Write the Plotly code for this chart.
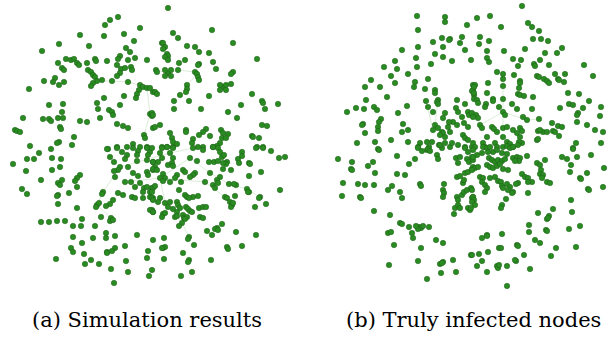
import plotly.graph_objects as go

# Node positions (image-pixel coordinates)
left_nodes = [
(118,17),(110,20),(105,25),(140,28),(80,35),(104,36),(124,34),(59,44),(134,41),(89,46),(42,51),
(126,48),(130,52),(120,56),(128,60),(118,59),(135,58),(147,60),(66,59),(71,60),(74,59),(77,63),(79,65),
(58,63),(62,68),(64,70),(95,59),(96,61),(107,61),(87,63),(88,70),(91,72),(93,75),
(117,65),(121,69),(120,73),(125,68),(131,67),(132,70),(117,76),(55,78),(44,81),(53,82),(59,85),(64,82),
(95,77),(97,81),(93,83),(91,86),(102,80),(112,81),(128,82),(29,89),
(140,85),(143,87),(147,88),(139,90),(137,94),(136,98),(153,92),(124,96),(104,98),(63,104),(49,105),
(97,103),(98,109),(120,105),(109,110),(112,112),(113,115),(62,112),(150,114),(152,116),(23,118),
(43,119),(49,119),(51,121),(58,118),(63,118),(100,118),(80,121),(87,122),(60,127),(61,129),(117,124),
(123,126),(128,128),(15,130),(17,131),(20,132),(153,128),(74,137),(144,135),(145,138),(59,142),(57,143),
(72,145),(30,146),(117,147),(108,149),(133,144),(140,147),(147,147),(148,148),(127,147),(51,149),
(168,8),(212,30),(173,33),(178,38),(233,43),(162,43),(163,43),(165,47),(163,49),(187,46),(195,47),
(199,52),(209,53),(167,54),(168,56),(165,57),(168,60),(185,60),(257,59),(213,62),(179,63),(199,64),
(198,65),(216,69),(156,70),(157,72),(168,73),(165,70),(171,70),(165,76),(171,76),(178,70),(195,72),(197,74),(198,77),
(199,80),(233,72),(231,74),(223,87),(220,85),(226,85),(220,90),(226,90),(231,84),(187,85),(187,89),(186,92),(150,88),(155,92),(157,94),
(180,95),(209,96),(252,94),(262,101),(263,103),(174,101),(189,101),(278,104),(241,105),(265,109),
(174,109),(201,109),(228,112),(152,113),(153,115),(237,118),(160,125),(155,127),(262,125),(267,126),
(186,130),(186,132),(206,129),(203,132),(199,135),(221,130),(223,133),(228,134),(170,133),(172,138),
(173,142),(210,136),(252,136),(253,137),(259,138),(193,139),(192,143),(222,138),(226,138),(220,143),
(177,144),(173,147),(217,146),(213,147),(203,147),(198,147),(162,147),(167,147),(257,147),(263,147),
(39,153),(13,164),(27,159),(34,159),(52,158),(61,159),(26,171),(52,170),(60,167),(41,180),(80,175),
(77,178),(75,181),(62,180),(58,183),(60,185),(77,187),(22,189),(27,194),(69,193),(58,195),(57,196),
(58,204),(97,205),(96,207),(99,203),(77,208),(101,217),(111,218),(110,221),(113,220),(41,222),(49,222),(57,221),
(65,221),(82,219),(73,226),(81,226),(95,226),(106,233),(106,238),(115,236),(137,235),(73,237),(93,238),
(82,243),(153,240),(71,248),(73,252),(125,246),(115,248),(107,252),(107,253),(112,251),(84,254),
(148,251),(56,259),(91,260),(126,261),(147,258),(99,264),(85,264),(111,269),(128,272),(152,270),
(149,276),(114,283),
(107,149),(117,148),(122,152),(127,155),(125,159),(133,148),(138,151),(137,155),(147,148),(150,152),
(148,155),(110,157),(114,162),(120,167),(118,170),(115,177),(128,167),(137,161),(147,160),(153,162),
(114,171),(133,173),(138,176),(147,172),(148,175),(153,170),(125,182),(131,182),(135,187),(140,183),
(144,188),(147,187),(150,192),(152,188),(143,192),(118,193),(123,195),(132,197),(135,198),(143,198),
(150,197),(153,198),(103,192),(102,194),(113,200),(110,204),(106,206),(153,212),(152,210),
(152,148),(162,148),(167,147),(173,148),(193,148),(203,150),(213,147),(218,148),(220,152),(242,152),
(256,148),(263,148),(271,151),(279,158),(285,157),(160,153),(162,158),(153,162),(158,162),
(170,153),(173,158),(168,165),(172,163),(173,166),(190,158),(197,161),(209,162),(214,162),(218,161),
(222,157),(224,155),(227,162),(226,164),(223,163),(238,159),(239,163),(242,156),(249,163),(250,164),
(231,170),(223,169),(220,177),(210,173),(217,180),(261,172),(249,176),(155,167),(153,169),(157,170),
(163,174),(160,178),(165,178),(163,181),(183,170),(185,172),(195,173),(193,175),(190,177),(177,175),
(175,178),(170,182),(181,182),(205,182),(213,185),(215,188),(218,183),(229,184),(236,185),(234,184),
(247,189),(249,192),(248,192),(280,190),(153,188),(155,186),(152,192),(179,190),(185,195),(187,197),
(193,197),(198,196),(189,198),(225,197),(227,198),(235,196),(260,197),(259,198),(152,198),(153,200),
(160,198),(158,202),(165,203),(168,207),(170,202),(177,202),(178,205),(180,208),(173,209),(177,212),
(186,207),(188,209),(190,211),(192,212),(199,208),(203,207),(206,207),(230,202),(232,205),(231,207),
(233,203),(255,207),(266,204),(150,210),(153,212),(163,214),(162,217),(165,213),(175,217),(177,216),
(183,215),(184,218),(187,217),(185,219),(200,217),(203,218),(222,224),(182,223),(179,226),(217,228),
(215,229),(218,230),(207,231),(212,235),(236,232),(256,235),(189,237),(188,239),(164,238),(163,248),
(165,247),(162,248),(194,245),(227,247),(228,249),(242,246),(183,253),(189,260),(188,262),(211,260),
(164,259),(192,272),(181,276),
]

right_nodes = [
(417,16),(445,17),(445,22),(467,25),(418,30),(462,37),(460,43),(450,39),(449,40),(442,38),(433,42),
(418,47),(443,47),(465,50),(402,50),(435,54),(443,57),(416,58),(452,61),(471,60),(395,61),(431,64),
(384,67),(397,69),(417,67),(408,74),(391,76),(428,79),(415,82),(371,80),(395,83),(414,87),(380,87),
(365,87),(435,90),(435,93),(425,89),(473,85),(473,90),(474,95),(474,99),(387,97),(366,100),(438,100),
(437,102),(438,104),(426,101),(457,100),(465,104),(407,106),(374,107),(356,108),(364,109),(377,110),
(347,112),(398,113),(428,107),(433,112),(445,113),(456,108),(458,112),(468,112),(469,115),(472,113),
(381,119),(379,122),(363,124),(362,125),(378,127),(378,131),(403,124),(408,130),(365,133),(402,132),
(435,125),(438,128),(433,130),(442,132),(443,133),(440,135),(445,137),(450,132),(448,127),(453,122),
(457,125),(462,117),(464,123),(468,127),(443,118),(449,122),(463,135),(465,138),(468,140),(357,143),
(375,142),(391,140),(408,142),(420,143),(427,142),(432,142),(429,147),(439,145),(445,143),(450,147),
(442,148),(452,143),(458,145),(465,147),(472,147),(378,149),(418,147),
(522,6),(477,18),(490,16),(501,27),(528,23),(532,27),(539,31),(480,37),(479,44),(489,41),(533,39),
(541,39),(548,41),(562,48),(487,51),(504,51),(525,49),(557,53),(545,53),(487,58),(489,62),(513,59),
(521,60),(540,60),(534,64),(535,66),(549,65),(584,65),(518,66),(497,72),(503,74),(514,75),(537,76),
(539,77),(544,79),(555,74),(565,74),(547,81),(549,83),(558,79),(559,80),(564,82),(593,76),(475,85),
(474,87),(488,83),(503,79),(503,86),(520,81),(520,83),(519,88),(472,91),(474,93),(487,93),(518,94),
(520,95),(524,96),(533,97),(568,93),(579,94),(477,100),(478,103),(493,99),(493,101),(503,99),(486,104),
(485,107),(569,104),(573,105),(589,101),(512,104),(517,109),(532,109),(560,108),(583,108),(601,107),
(499,107),(503,112),(505,115),(578,113),(577,115),(600,116),(523,117),(476,115),(478,118),(473,117),
(539,119),(527,120),(577,122),(587,125),(552,123),(558,126),(562,127),(503,128),(507,127),(480,125),
(482,128),(492,127),(494,129),(497,132),(513,130),(520,128),(522,131),(517,133),(520,137),(543,132),
(547,132),(553,131),(555,132),(538,131),(540,130),(559,136),(595,130),(603,132),(537,140),(538,139),
(522,143),(519,142),(503,137),(507,142),(510,144),(513,147),(487,137),(483,143),(485,147),(495,143),
(497,147),(473,143),(475,147),(576,143),(601,143),(573,148),
(379,150),(338,159),(352,162),(351,169),(352,170),(373,162),(368,166),(397,156),(415,159),(409,164),
(375,173),(397,174),(405,175),(343,183),(358,184),(365,185),(374,185),(392,186),(420,184),(421,186),
(388,190),(400,192),(342,196),(360,197),(361,198),(402,198),(374,211),(390,215),(400,223),(402,224),
(409,227),(419,227),(421,228),(418,229),(416,226),(423,226),(429,227),(388,233),(391,232),(412,233),
(413,238),(436,240),(443,243),(394,245),(421,248),(471,255),(418,261),(453,260),(443,262),(440,264),
(442,263),(389,265),(456,272),(441,273),(427,279),
(418,148),(422,151),(427,150),(428,149),(430,151),(440,145),(437,155),(438,159),(456,158),(460,157),
(458,163),(465,148),(468,152),(473,150),(472,157),(467,159),(469,162),(473,160),(465,173),(468,172),
(472,169),(473,167),(457,177),(460,176),(444,184),(463,183),(464,180),(443,190),(444,193),(443,197),
(457,197),(458,200),(462,195),(464,192),(467,190),(471,188),(472,198),(473,197),(455,208),(458,205),
(460,208),(454,214),(468,208),(470,210),
(483,147),(487,148),(490,147),(503,147),(507,146),(510,148),(513,147),(518,145),(477,155),(473,157),
(482,153),(488,152),(493,152),(497,150),(502,153),(507,154),(513,158),(517,157),(520,158),(519,161),
(515,161),(527,156),(489,158),(492,160),(495,162),(498,160),(502,161),(505,159),(487,165),(490,167),
(493,168),(497,166),(500,164),(475,168),(478,167),(472,170),(503,169),(508,170),(537,163),(540,165),
(545,160),(541,170),(540,174),(543,175),(542,178),(547,182),(550,183),(522,174),(525,177),(528,178),
(532,182),(528,182),(480,177),(483,178),(482,182),(485,185),(487,188),(485,192),(490,178),(495,177),
(498,181),(501,182),(502,186),(503,188),(507,184),(510,187),(508,190),(513,192),(512,193),(518,183),
(516,184),(472,190),(473,197),(474,200),(472,202),(475,205),(471,208),(528,193),(506,199),(502,205),
(501,208),(562,157),(567,159),(571,165),(577,157),(570,172),(573,149),(591,155),(580,178),(581,179),
(587,173),(604,168),(588,189),(589,190),(603,187),(571,200),(553,209),(572,212),(538,213),(549,216),
(547,219),(548,218),(529,225),(569,229),(580,226),(529,232),(546,230),(547,231),(487,235),(487,236),
(502,234),(482,238),(535,240),(540,243),(517,245),(518,246),(499,248),(501,248),(556,248),(576,247),
(472,255),(479,254),(488,252),(524,255),(551,256),(482,261),(516,261),(515,260),(477,266),(497,266),
(498,268),(499,265),(507,266),(530,269),(487,272),(507,286),
]

# Faint edges (index pairs into the node lists)
left_edges = [
(46, 50), (50, 51), (51, 53), (55, 71), (71, 92), (130, 132), (132, 137), (137, 138),
(139, 150), (152, 156), (229, 315), (229, 234), (372, 346), (372, 384), (384, 404),
(404, 428), (372, 413), (413, 448), (448, 457), (299, 372), (286, 341), (341, 326),
(346, 364), (364, 388), (388, 391), (391, 407), (287, 315), (326, 327),
]
right_edges = [
(157, 158), (158, 175), (175, 188), (159, 161), (161, 166), (154, 162), (162, 171),
(171, 177), (188, 206), (188, 198), (198, 197), (188, 204), (43, 74), (46, 76),
]

captions = ["(a) Simulation results", "(b) Truly infected nodes"]

NODE_FILL = "#2a8b22"
NODE_LINE = "#1c5e16"
EDGE_COLOR = "rgba(150,205,140,0.45)"
CAPTION_FONT = dict(family="DejaVu Serif", size=21, color="black")

fig = go.Figure()

def add_panel(nodes, edges, xa, ya):
    ex, ey = [], []
    for a, b in edges:
        if a < len(nodes) and b < len(nodes):
            ex += [nodes[a][0], nodes[b][0], None]
            ey += [nodes[a][1], nodes[b][1], None]
    fig.add_trace(go.Scatter(x=ex, y=ey, mode="lines", xaxis=xa, yaxis=ya,
                             line=dict(color=EDGE_COLOR, width=0.8), hoverinfo="skip",
                             showlegend=False))
    fig.add_trace(go.Scatter(x=[p[0] for p in nodes], y=[p[1] for p in nodes],
                             mode="markers", xaxis=xa, yaxis=ya, showlegend=False,
                             marker=dict(size=5.5, color=NODE_FILL,
                                         line=dict(color=NODE_LINE, width=0.5))))

add_panel(left_nodes, left_edges, "x", "y")
add_panel(right_nodes, right_edges, "x2", "y2")

ax = dict(visible=False, showgrid=False, zeroline=False, fixedrange=True)
fig.update_layout(
    width=616, height=337,
    margin=dict(l=0, r=0, t=0, b=0),
    paper_bgcolor="white", plot_bgcolor="white",
    xaxis=dict(domain=[0, 0.5], range=[0, 308], **ax),
    yaxis=dict(domain=[0, 1], range=[337, 0], **ax),
    xaxis2=dict(domain=[0.5, 1], range=[308, 616], **ax),
    yaxis2=dict(domain=[0, 1], range=[337, 0], anchor="x2", **ax),
    annotations=[
        dict(text=captions[0], x=147 / 616, y=1 - 320 / 337, xref="paper", yref="paper",
             showarrow=False, font=CAPTION_FONT, xanchor="center", yanchor="middle"),
        dict(text=captions[1], x=473 / 616, y=1 - 320 / 337, xref="paper", yref="paper",
             showarrow=False, font=CAPTION_FONT, xanchor="center", yanchor="middle"),
    ],
)

fig.write_html("out.html")
